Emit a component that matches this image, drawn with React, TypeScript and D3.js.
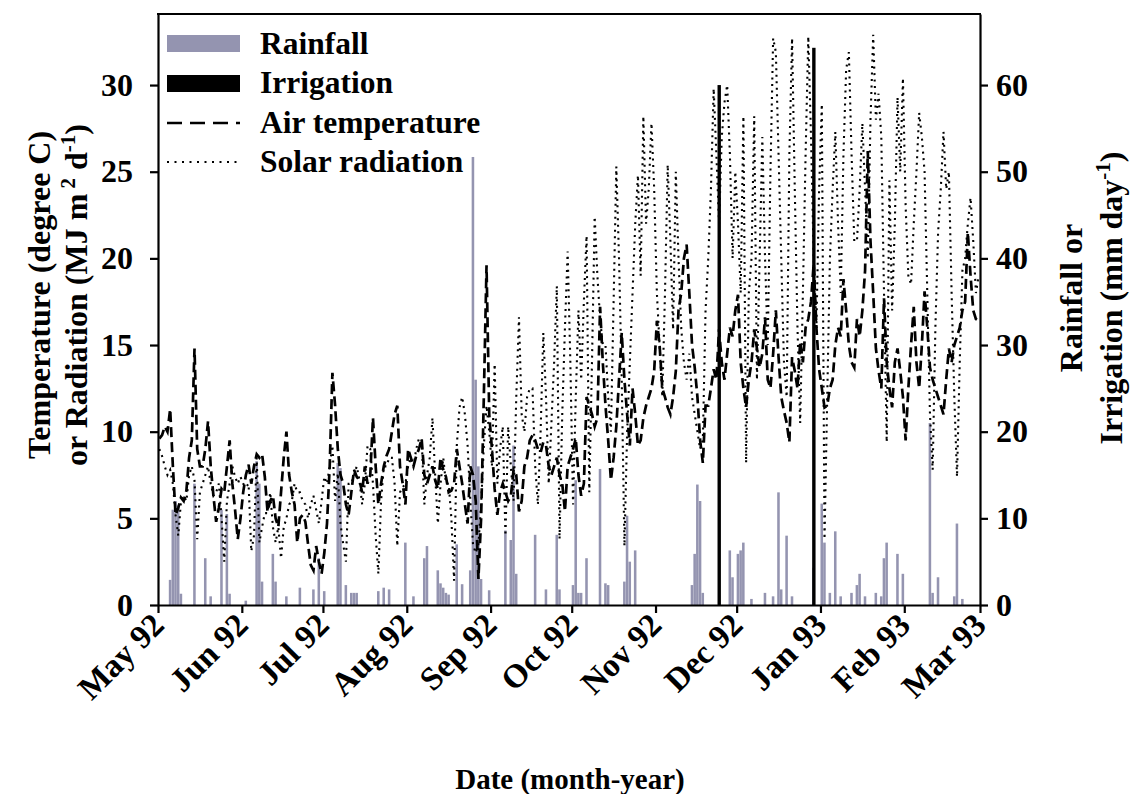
import React, { useEffect, useRef } from "react";
import * as d3 from "d3";

// page and plot box
const W = 1140;
const H = 794;
const box = { left: 158, right: 980, top: 14, bottom: 605 };

const startDate = new Date(1992, 4, 1);
const endDate = new Date(1993, 2, 1);

// ticks
const leftTicks = [0, 5, 10, 15, 20, 25, 30];
const rightTicks = [0, 10, 20, 30, 40, 50, 60];
const monthLabels = ["May 92", "Jun 92", "Jul 92", "Aug 92", "Sep 92", "Oct 92", "Nov 92", "Dec 92", "Jan 93", "Feb 93", "Mar 93"];

// daily air temperature (degree C), day 0 = 1 May 1992
const airTemp = [
  9.6, 9.8, 10.3, 10.0, 11.3, 8.0, 5.2, 5.6, 6.2, 6.0,
  6.6, 8.5, 9.5, 14.8, 9.0, 8.0, 8.0, 9.0, 10.6, 8.0,
  6.3, 4.8, 5.6, 6.7, 6.5, 8.0, 9.5, 7.0, 5.5, 3.8,
  5.0, 6.5, 7.5, 8.1, 7.0, 8.0, 8.7, 8.5, 8.7, 7.4,
  5.4, 6.0, 6.3, 5.0, 4.5, 6.5, 8.5, 10.0, 7.5, 6.5,
  5.8, 3.6, 5.0, 5.2, 4.8, 3.5, 2.3, 2.0, 3.4, 2.5,
  1.8, 3.0, 4.7, 8.0, 13.4, 11.5, 9.0, 7.5, 7.0, 5.8,
  5.2, 6.5, 7.8, 7.4, 7.2, 6.5, 8.0, 7.0, 7.5, 10.8,
  8.0, 5.8, 7.0, 8.0, 8.6, 9.0, 10.0, 11.0, 11.5, 8.0,
  7.0, 5.8, 9.0, 8.5, 8.0, 8.6, 9.0, 9.6, 7.5, 7.0,
  7.5, 8.0, 7.2, 6.7, 8.5, 7.8, 7.4, 6.5, 6.6, 7.0,
  9.0, 8.0, 7.0, 5.8, 4.7, 8.0, 7.5, 6.0, 1.5, 5.0,
  12.0, 19.6, 11.0, 9.0, 6.7, 5.2, 6.5, 7.0, 6.5, 6.0,
  6.3, 7.8, 7.5, 5.4, 6.0, 8.0, 8.5, 9.5, 9.8, 9.5,
  9.0, 8.8, 9.4, 9.2, 8.0, 7.5, 8.0, 8.5, 7.5, 7.0,
  5.4, 8.0, 8.5, 9.0, 9.6, 7.5, 6.3, 7.0, 12.0, 11.5,
  11.0, 10.3, 10.8, 17.2, 14.0, 11.5, 9.5, 7.2, 8.5, 10.3,
  13.0, 15.7, 13.0, 11.0, 9.2, 12.5, 11.0, 9.2, 9.5, 10.8,
  11.5, 12.0, 12.5, 13.5, 16.4, 15.0, 12.5, 12.0, 11.4, 11.0,
  12.0, 13.5, 17.0, 18.0, 20.0, 20.8, 18.0, 15.0, 13.7, 12.0,
  9.5, 8.2, 11.5, 11.5, 12.5, 13.6, 13.0, 15.9, 14.0, 13.0,
  14.5, 16.0, 15.5, 17.0, 17.9, 14.0, 12.5, 11.4, 13.0, 14.0,
  15.9, 14.8, 13.7, 14.5, 16.6, 13.0, 12.5, 14.5, 17.0, 14.3,
  12.0, 11.2, 10.5, 9.4, 14.3, 13.5, 12.5, 15.2, 14.0, 16.0,
  16.5, 17.5, 19.7, 16.0, 13.6, 12.5, 11.4, 11.5, 12.5, 13.0,
  15.0, 16.0, 15.5, 18.8, 17.0, 15.0, 14.0, 13.7, 16.5, 15.5,
  17.0, 19.3, 26.2, 21.0, 18.0, 14.8, 13.5, 12.5, 17.7, 14.0,
  12.5, 11.4, 14.0, 14.8, 13.5, 12.0, 9.5, 12.5, 15.0, 17.2,
  14.0, 12.5, 15.0, 18.1, 16.0, 13.7, 13.0, 12.5, 12.0, 11.5,
  11.0, 13.0, 14.8, 14.0, 15.0, 15.5, 16.0, 17.0, 17.5, 21.5,
  19.0, 17.0, 16.5, 16.4,
];

// daily solar radiation (MJ m-2 d-1)
const solarRad = [
  9.0, 8.6, 8.0, 7.5, 7.8, 7.0, 5.2, 4.0, 6.0, 6.3,
  6.0, 7.5, 8.0, 7.2, 3.8, 6.5, 7.0, 7.5, 8.0, 7.0,
  6.3, 6.5, 7.0, 5.0, 2.5, 6.0, 7.0, 8.0, 7.4, 7.0,
  7.4, 7.0, 6.8, 7.0, 3.1, 4.0, 8.5, 3.6, 4.5, 5.3,
  5.3, 6.5, 4.5, 3.6, 4.5, 2.7, 4.5, 5.0, 5.8, 6.0,
  7.0, 6.5, 6.5, 6.0, 5.8, 5.0, 5.8, 6.3, 5.5, 4.7,
  6.0, 7.4, 7.0, 8.0, 9.2, 6.0, 7.6, 4.7, 3.5, 2.5,
  7.0, 7.0, 7.5, 8.0, 7.2, 5.8, 7.0, 9.2, 9.0, 7.0,
  4.0, 1.8, 6.0, 8.0, 8.0, 8.5, 8.5, 7.0, 3.4, 6.5,
  6.8, 7.0, 8.0, 8.5, 8.0, 9.0, 9.6, 9.6, 5.8, 7.5,
  8.5, 10.8, 7.5, 4.7, 7.0, 8.5, 7.0, 7.0, 5.0, 1.4,
  9.2, 11.4, 12.0, 11.0, 9.2, 6.0, 3.5, 3.0, 3.5, 5.8,
  9.2, 11.5, 10.0, 8.0, 13.9, 7.0, 9.0, 10.3, 4.0, 10.3,
  8.0, 6.0, 12.0, 16.6, 11.0, 10.0, 12.0, 12.5, 12.5, 8.0,
  5.8, 10.0, 15.7, 12.0, 7.0, 10.5, 14.0, 18.4, 3.8, 11.0,
  16.0, 20.4, 14.0, 5.8, 12.0, 17.0, 13.0, 17.5, 21.3, 6.5,
  14.0, 22.4, 19.0, 16.5, 15.0, 15.0, 12.0, 10.0, 17.5, 25.3,
  20.0, 13.0, 3.4, 10.0, 14.0, 18.0, 22.0, 24.8, 19.0, 28.2,
  22.0, 24.0, 27.8, 24.0, 18.0, 15.0, 12.0, 18.0, 25.4, 21.0,
  15.9, 25.0, 20.0, 16.0, 14.0, 13.0, 14.5, 12.0, 11.0, 10.0,
  9.0, 9.5, 17.0, 20.0, 24.0, 29.8, 26.0, 22.0, 27.0, 29.0,
  30.0, 26.0, 20.0, 25.0, 22.0, 18.0, 28.2, 8.2, 18.0, 20.0,
  28.2, 13.0, 20.0, 27.0, 20.0, 15.0, 25.0, 32.7, 31.9, 26.0,
  20.0, 14.0, 12.0, 26.0, 32.7, 24.0, 16.0, 10.5, 18.0, 26.0,
  32.8, 27.0, 20.0, 16.0, 24.0, 28.9, 3.8, 12.0, 20.0, 24.0,
  27.3, 22.0, 18.0, 26.0, 30.9, 31.9, 26.0, 21.0, 21.0, 24.0,
  27.8, 24.0, 20.0, 28.0, 32.9, 28.0, 29.5, 27.0, 18.0, 9.4,
  24.5, 17.0, 22.0, 29.3, 25.0, 30.4, 23.0, 19.0, 18.5, 22.0,
  25.0, 28.4, 27.0, 25.0, 18.0, 11.0, 7.8, 16.0, 21.5, 24.0,
  27.3, 24.0, 25.0, 18.0, 12.0, 7.4, 14.0, 19.3, 20.0, 22.0,
  23.5, 21.0, 18.0, 19.0,
];

// rainfall events: day index and mm
const rainDay = [
  4, 5, 6, 7, 8, 13, 17, 19, 23, 25, 26, 32, 36, 37, 38, 42, 43, 47, 52, 57,
  59, 61, 66, 67, 69, 71, 72, 73, 81, 83, 85, 91, 94, 98, 99, 103, 104, 105, 106, 107,
  110, 112, 115, 116, 117, 118, 119, 122, 128, 130, 131, 132, 139, 143, 147, 148, 153, 154, 155, 156,
  158, 163, 165, 166, 172, 173, 174, 176, 197, 198, 199, 200, 201, 211, 212, 214, 215, 216, 219, 224,
  227, 229, 230, 232, 234, 242, 245, 246, 248, 250, 252, 256, 258, 259, 261, 265, 267, 268, 269, 273,
  275, 285, 286, 288, 294, 295, 297,
];
const rainMm = [
  2.9, 11.0, 12.0, 11.5, 1.3, 14.0, 5.4, 1.0, 11.0, 10.5, 1.3, 0.5, 16.6, 14.0, 2.7, 5.9, 2.7, 1.0, 2.0, 1.8,
  5.4, 1.6, 16.4, 15.8, 2.3, 1.4, 1.4, 1.4, 1.6, 2.0, 1.8, 7.2, 1.0, 5.4, 6.8, 4.0, 2.5, 2.0, 1.4, 1.2,
  7.0, 2.4, 4.0, 51.7, 26.0, 16.0, 3.0, 1.7, 8.6, 7.5, 18.4, 3.6, 8.1, 1.8, 8.1, 1.8, 2.3, 14.4, 1.4, 1.4,
  5.4, 15.7, 2.5, 2.3, 2.7, 10.3, 5.0, 6.3, 2.3, 5.9, 13.9, 12.0, 1.4, 6.3, 3.2, 5.9, 6.3, 7.2, 0.7, 1.4,
  1.0, 13.0, 1.8, 8.0, 1.0, 4.3, 11.7, 7.2, 1.4, 8.5, 1.0, 1.4, 2.3, 3.6, 1.0, 1.4, 1.0, 5.4, 7.2, 5.9,
  3.6, 21.0, 1.4, 3.2, 1.0, 9.4, 0.7,
];

// irrigation events
const irrigDay = [207, 242];
const irrigMm = [60, 64.3];

const rainColor = "#9494b0";
const font = "'Liberation Serif', 'Times New Roman', serif";

export default function App() {
  const svgRef = useRef<SVGSVGElement>(null);

  useEffect(() => {
    const svg = d3.select(svgRef.current);
    svg.selectAll("*").remove();

    const x = d3.scaleTime().domain([startDate, endDate]).range([box.left, box.right]);
    const yL = d3.scaleLinear().domain([0, 34.1]).range([box.bottom, box.top]);
    const yR = d3.scaleLinear().domain([0, 68.2]).range([box.bottom, box.top]);
    const day = (i: number) => d3.timeDay.offset(startDate, i);
    const dayW = x(day(1)) - x(day(0));

    // rainfall bars
    svg.append("g")
      .selectAll("rect")
      .data(rainDay.map((d, i) => ({ d, v: rainMm[i] })))
      .enter().append("rect")
      .attr("x", (p) => x(day(p.d)))
      .attr("width", dayW - 0.15)
      .attr("y", (p) => yR(p.v))
      .attr("height", (p) => box.bottom - yR(p.v))
      .attr("fill", rainColor);

    // irrigation bars
    svg.append("g")
      .selectAll("rect")
      .data(irrigDay.map((d, i) => ({ d, v: irrigMm[i] })))
      .enter().append("rect")
      .attr("x", (p) => x(day(p.d)) - 0.2)
      .attr("width", 3.4)
      .attr("y", (p) => yR(p.v))
      .attr("height", (p) => box.bottom - yR(p.v))
      .attr("fill", "#000");

    const line = d3.line<number>()
      .x((_, i) => x(day(i)) + dayW / 2)
      .y((v) => yL(v));

    svg.append("path")
      .attr("d", line(solarRad))
      .attr("fill", "none")
      .attr("stroke", "#000")
      .attr("stroke-width", 2.1)
      .attr("stroke-dasharray", "2,4.5");

    svg.append("path")
      .attr("d", line(airTemp))
      .attr("fill", "none")
      .attr("stroke", "#000")
      .attr("stroke-width", 2.7)
      .attr("stroke-dasharray", "10,5");

    // axes
    const styleAxis = (g: any) => {
      g.select(".domain").attr("stroke-width", 2.2);
      g.selectAll(".tick line").attr("stroke-width", 2.2);
      g.selectAll("text").attr("font-family", font).attr("font-weight", "bold").attr("font-size", 32).attr("fill", "#000");
    };

    svg.append("g")
      .attr("transform", `translate(${box.left},0)`)
      .call(d3.axisLeft(yL).tickValues(leftTicks).tickSize(8).tickSizeOuter(0).tickPadding(17))
      .call(styleAxis);

    svg.append("g")
      .attr("transform", `translate(${box.right},0)`)
      .call(d3.axisRight(yR).tickValues(rightTicks).tickSize(8).tickSizeOuter(0).tickPadding(8))
      .call(styleAxis);

    const months = d3.timeMonth.range(startDate, d3.timeDay.offset(endDate, 1));
    svg.append("g")
      .attr("transform", `translate(0,${box.bottom})`)
      .call(d3.axisBottom(x).tickValues(months).tickSize(8).tickSizeOuter(0).tickFormat(() => ""))
      .call(styleAxis);

    // top frame
    svg.append("line")
      .attr("x1", box.left - 1).attr("x2", box.right + 1)
      .attr("y1", box.top).attr("y2", box.top)
      .attr("stroke", "#000").attr("stroke-width", 2.2);

    // rotated month labels
    svg.append("g")
      .selectAll("text")
      .data(months)
      .enter().append("text")
      .attr("transform", (m) => `translate(${x(m) + 8},${box.bottom + 22}) rotate(-45)`)
      .attr("text-anchor", "end")
      .attr("font-family", font)
      .attr("font-weight", "bold")
      .attr("font-size", 33)
      .text((m, i) => monthLabels[i]);

    const txt = (sel: any) => sel.attr("font-family", font).attr("font-weight", "bold").attr("fill", "#000");

    // axis titles
    svg.append("text").call(txt)
      .attr("font-size", 29)
      .attr("text-anchor", "middle")
      .attr("x", 570).attr("y", 789)
      .text("Date (month-year)");

    svg.append("text").call(txt)
      .attr("font-size", 32)
      .attr("text-anchor", "middle")
      .attr("transform", "translate(50,295) rotate(-90)")
      .text("Temperature (degree C)");

    const l2 = svg.append("text").call(txt)
      .attr("font-size", 32)
      .attr("text-anchor", "middle")
      .attr("transform", "translate(87,295) rotate(-90)");
    l2.append("tspan").text("or Radiation (MJ m");
    l2.append("tspan").attr("font-size", 21).attr("dy", -12).text(" 2");
    l2.append("tspan").attr("dy", 12).text(" d");
    l2.append("tspan").attr("font-size", 21).attr("dy", -12).text("-1");
    l2.append("tspan").attr("dy", 12).text(")");

    svg.append("text").call(txt)
      .attr("font-size", 32)
      .attr("text-anchor", "middle")
      .attr("transform", "translate(1082,298) rotate(-90)")
      .text("Rainfall or");

    const r2 = svg.append("text").call(txt)
      .attr("font-size", 32)
      .attr("text-anchor", "middle")
      .attr("transform", "translate(1122,298) rotate(-90)");
    r2.append("tspan").text("Irrigation (mm day");
    r2.append("tspan").attr("font-size", 21).attr("dy", -12).text("-1");
    r2.append("tspan").attr("dy", 12).text(")");

    // legend
    const lg = svg.append("g");
    const lx = 167, lw = 73, tx = 260;
    lg.append("rect").attr("x", lx).attr("y", 35).attr("width", lw).attr("height", 17).attr("fill", rainColor);
    lg.append("rect").attr("x", lx).attr("y", 75).attr("width", lw).attr("height", 17).attr("fill", "#000");
    lg.append("line").attr("x1", lx).attr("x2", lx + lw).attr("y1", 123).attr("y2", 123)
      .attr("stroke", "#000").attr("stroke-width", 2.4).attr("stroke-dasharray", "15,8");
    lg.append("line").attr("x1", lx).attr("x2", lx + lw).attr("y1", 162).attr("y2", 162)
      .attr("stroke", "#000").attr("stroke-width", 2).attr("stroke-dasharray", "2,5.5");
    const names = ["Rainfall", "Irrigation", "Air temperature", "Solar radiation"];
    names.forEach((n, i) => {
      lg.append("text").call(txt)
        .attr("font-size", 31.5)
        .attr("x", tx).attr("y", 54 + i * 39.3)
        .text(n);
    });
  }, []);

  return (
    <svg
      ref={svgRef}
      width={W}
      height={H}
      style={{ position: "absolute", left: 0, top: 0, background: "#fff" }}
    />
  );
}
